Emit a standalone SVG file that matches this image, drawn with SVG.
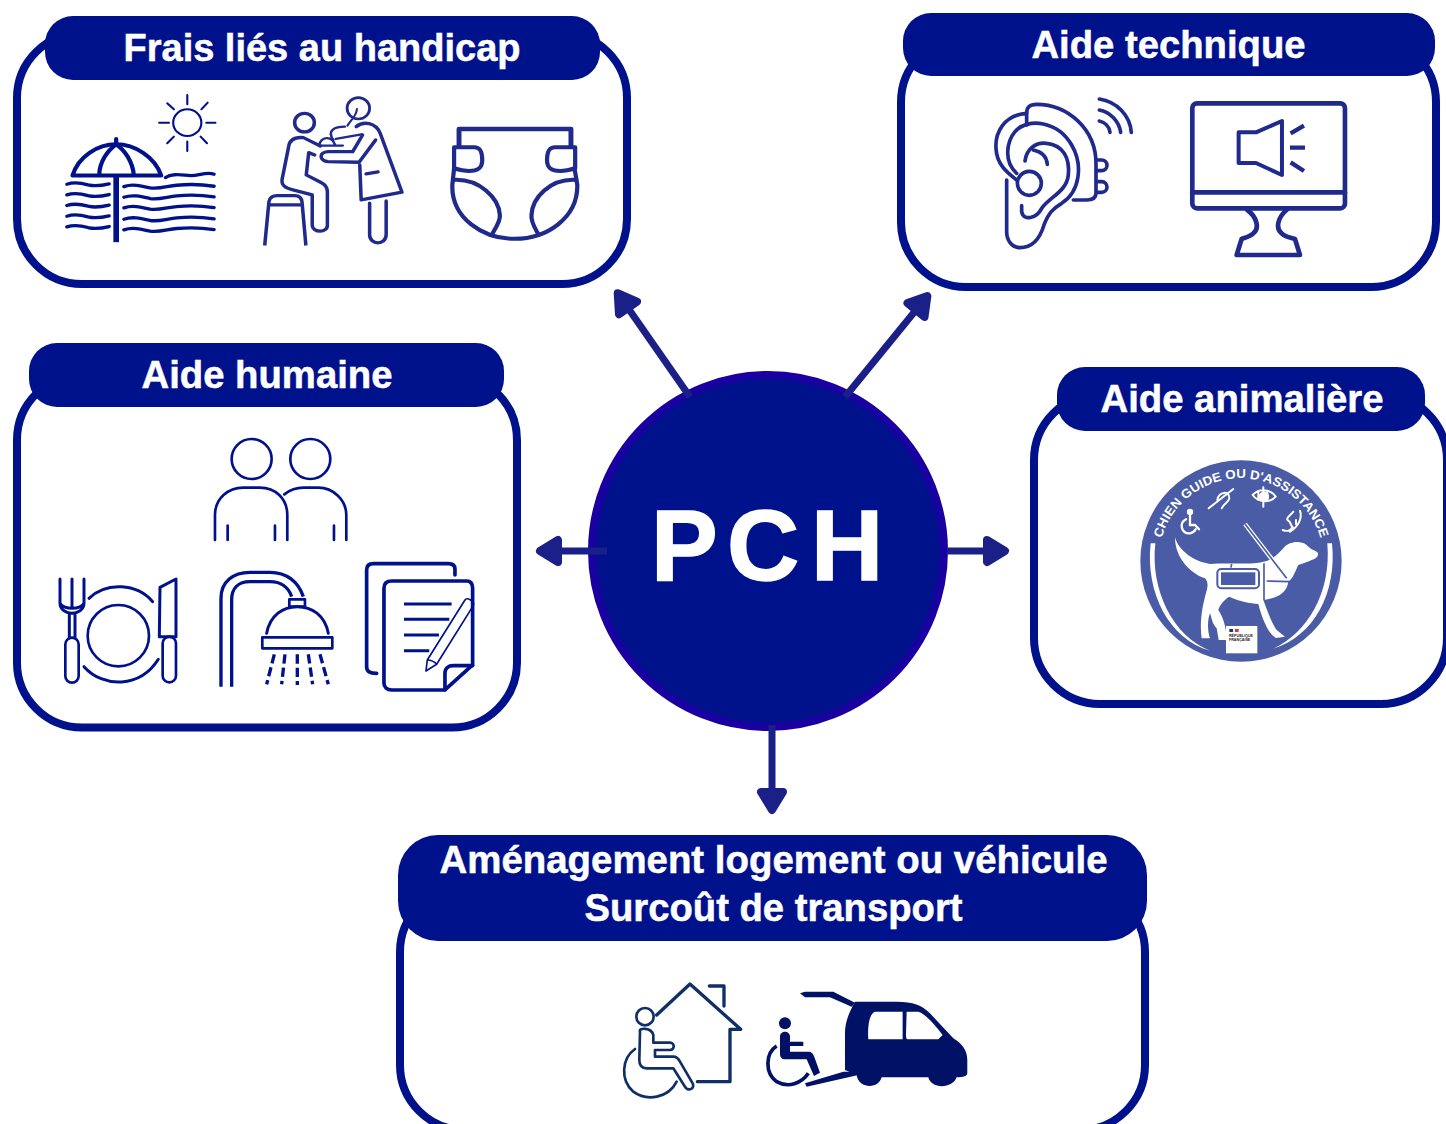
<svg xmlns="http://www.w3.org/2000/svg" width="1446" height="1124" viewBox="0 0 1446 1124">
<defs>
<style>
.panel{fill:#fff;stroke:#00118c;stroke-width:8}
.head{fill:#00118c}
.title{font-family:"Liberation Sans",Arial,sans-serif;font-weight:700;font-size:39px;fill:#fff;stroke:#fff;stroke-width:.5;text-anchor:middle}
.i{fill:none;stroke:#00118c;stroke-linecap:round;stroke-linejoin:round}
.j{fill:none;stroke:#1f2a8c;stroke-linecap:round;stroke-linejoin:round}
.conn{fill:none;stroke:#1a2088;stroke-width:7}
.w{fill:#fff}
.b{fill:#4a5ca5}
</style>
<marker id="ah" markerUnits="userSpaceOnUse" markerWidth="40" markerHeight="44" refX="5" refY="22" orient="auto" viewBox="0 0 40 44">
<path d="M5,11 L23,22 L5,33 Z" fill="#1a2088" stroke="#1a2088" stroke-width="8" stroke-linejoin="round"/>
</marker>
<path id="arc" d="M85,333 A248,248 0 0 1 581,333"/>
<path id="wl" d="M0,0 C20,-7 40,-4 60,2 C80,7 100,4 120,-1"/>
<path id="wr" d="M0,0 C25,-9 50,-2 75,4 C100,8 125,-2 150,-4 C190,-8 225,-6 256,-1"/>
</defs>

<g id="frais">
<rect class="panel" x="17" y="33" width="610" height="251" rx="65"/>
<rect class="head" x="45" y="16" width="555" height="64" rx="28"/>
<text class="title" x="322" y="61" textLength="397" lengthAdjust="spacingAndGlyphs">Frais liés au handicap</text>
<g transform="translate(50,85) scale(.352,.333)">
<g class="i" stroke-width="6">
<circle cx="390" cy="113" r="40"/>
<path d="M390,30V58M390,170V198M310,113H338M444,113H470M333,55L352,73M448,53L430,73M333,175L352,155M446,175L428,155"/>
</g>
<g class="i" stroke-width="12">
<path d="M64,272 H316 C298,215 240,178 188,178 C135,178 80,215 64,272Z"/>
<path d="M140,270 C140,230 165,195 188,178 C212,195 235,230 238,270"/>
<path d="M188,162V178"/>
<path d="M188,272V472" stroke-width="16" stroke-linecap="butt"/>
</g>
<g class="i" stroke-width="10" stroke-linecap="butt">
<use href="#wl" x="48" y="298"/><use href="#wl" x="48" y="330"/><use href="#wl" x="48" y="362"/><use href="#wl" x="48" y="394"/><use href="#wl" x="48" y="426"/>
<use href="#wr" x="210" y="305"/><use href="#wr" x="210" y="337"/><use href="#wr" x="210" y="369"/><use href="#wr" x="210" y="403"/><use href="#wr" x="210" y="435"/>
<path d="M328,278 C350,262 380,272 400,272 C425,272 445,260 466,268"/>
</g>
<g class="j" stroke-width="10">
<circle cx="723" cy="113" r="28"/>
<path d="M768,183 L720,158 C690,155 680,170 678,185 L660,280 C655,300 668,310 690,315 L745,330 V420 C745,445 790,445 788,420 V320 C788,305 780,298 770,293 L728,270 L735,203 L752,210"/>
<path d="M610,482 L622,350 C625,335 635,332 645,332 H695 C710,332 715,340 716,352 L727,482 M625,360H715" stroke-linecap="butt"/>
<circle cx="876" cy="70" r="32" stroke-width="8"/>
<path d="M872,72 C870,95 858,100 845,122" stroke-width="6"/>
<path d="M870,125 C890,108 925,112 938,145 L1000,322 L884,345 L880,240"/>
<path d="M925,165 L878,232 L790,230 C765,228 762,202 790,200 H860 L888,150"/>
<path d="M898,267L932,261M908,355V450 C908,482 955,482 955,450 V348"/>
<path d="M765,180 C770,155 800,150 810,180 M765,182 H832 M805,165 C785,135 810,125 838,125 M812,162 L885,148" stroke-width="7"/>
</g>
<g class="j" stroke-width="12" stroke-linecap="butt">
<path d="M1162,185V132H1480V185" stroke-width="14"/>
<path d="M1148,187 H1205 C1225,187 1228,205 1228,225 C1228,250 1215,258 1190,258 C1175,258 1160,254 1148,250Z"/>
<path d="M1492,187 H1435 C1415,187 1412,205 1412,225 C1412,250 1425,258 1450,258 C1465,258 1480,254 1492,250Z"/>
<path d="M1148,250 L1143,300 C1140,400 1230,462 1320,462 C1410,462 1500,400 1498,300 L1490,250"/>
<path d="M1145,285 C1220,280 1275,340 1278,390 C1280,410 1265,430 1255,450"/>
<path d="M1495,285 C1420,280 1370,340 1368,390 C1365,410 1378,430 1388,450"/>
</g>
</g>
</g>

<g id="technique">
<rect class="panel" x="901" y="37" width="535" height="250" rx="65"/>
<rect class="head" x="903" y="13" width="532" height="63" rx="28"/>
<text class="title" x="1168.500" y="58" textLength="274" lengthAdjust="spacingAndGlyphs">Aide technique</text>
<g transform="translate(970,85) scale(.3333)">
<g class="j" stroke-width="11">
<path d="M170,85 C170,65 180,58 200,58 C290,58 380,130 378,240 V325 C378,340 365,345 350,345 H310"/>
<path d="M170,85 C100,90 75,145 78,190 C80,240 115,265 140,285 M170,85V120"/>
<path d="M140,265 C100,230 110,170 135,140 C175,95 265,110 305,180 C340,240 330,320 275,355 C250,370 235,385 222,420 C210,460 190,488 150,488 C125,488 110,465 110,440 V285"/>
<circle cx="178" cy="295" r="36"/>
<path d="M165,228 C170,190 200,170 230,175 C280,180 300,220 295,270 C290,320 240,335 215,370 C200,400 160,410 155,380 V362"/>
<path d="M190,195 C215,200 230,215 232,238"/>
<path d="M382,225H395A16,16 0 0 1 395,257H382M382,290H395A16,16 0 0 1 395,322H382"/>
<path d="M388,42 C440,50 480,90 484,142M388,75 C420,80 448,110 452,142M388,108 C405,112 418,125 420,142"/>
</g>
<g class="j" stroke-width="14">
<rect x="667" y="55" width="458" height="315" rx="14"/>
<path d="M667,322H1125"/>
<path d="M832,375 C860,395 870,430 850,445 C840,455 825,458 815,462 L800,510 H990 L975,462 C960,458 945,455 935,445 C915,430 925,395 950,375"/>
<path d="M806,142H858L936,108V270L858,234H806Z" stroke-width="12"/>
<path d="M962,145L1002,122M960,188H1005M962,232L1002,258" stroke-width="13" stroke-linecap="butt"/>
</g>
</g>
</g>

<g id="humaine">
<rect class="panel" x="17" y="375" width="500" height="352.500" rx="65"/>
<rect class="head" x="29" y="343" width="475" height="64" rx="28"/>
<text class="title" x="267" y="388" textLength="251" lengthAdjust="spacingAndGlyphs">Aide humaine</text>
<g transform="translate(40,425) scale(.3333)">
<g class="i" stroke-width="8" stroke-linecap="butt">
<circle cx="635" cy="102" r="60"/><circle cx="811" cy="102" r="60"/>
<path d="M525,345V270C525,220 565,188 610,188H660C705,188 742,220 742,270V345"/>
<path d="M733,208C750,195 770,188 790,188H835C880,188 919,225 919,270V345"/>
<path d="M563,302V345M705,302V345M882,302V345"/>
</g>
<g class="i" stroke-width="8">
<circle cx="235" cy="632" r="92"/>
<path d="M147,520C200,470 290,475 338,530M132,725C190,790 300,790 355,703" stroke-width="9"/>
<path d="M60,462V535C60,555 80,565 96,565C112,565 132,555 132,535V462M96,462V545M60,535C75,555 118,555 132,535M88,565V638M105,565V638" stroke-width="9"/>
<rect x="76" y="638" width="40" height="135" rx="20"/>
<path d="M360,487L408,462V635H358Z" stroke-width="9"/>
<rect x="368" y="635" width="40" height="137" rx="20"/>
<path d="M543,785V520C543,470 580,442 630,442H690C740,442 775,470 790,515M575,785V525C575,490 595,470 630,470H690C720,470 745,485 755,515" stroke-width="10" stroke-linecap="butt"/>
<rect x="748" y="523" width="47" height="22"/>
<path d="M680,625C690,570 730,545 772,545C815,545 855,570 865,625" stroke-width="9"/>
<rect x="667" y="637" width="210" height="33"/>
<path d="M703,688L680,778M735,688L725,778M772,688V780M805,688L818,778M840,688L865,778" stroke-width="10" stroke-linecap="butt" stroke-dasharray="28 12"/>
<path d="M1245,450V432C1245,420 1238,416 1225,416H1000C985,416 980,425 980,435V725C980,740 990,745 1010,745" stroke-width="11"/>
<path d="M1215,795H1055C1040,795 1032,785 1032,775V490C1032,475 1040,468 1055,468H1280C1292,468 1298,475 1298,490V720L1215,795Z" stroke-width="11"/>
<path d="M1215,795V745C1215,730 1225,722 1240,722H1298" stroke-width="11"/>
<path d="M1092,537H1235M1092,583H1228M1092,630H1197M1092,677H1168" stroke-width="9" stroke-linecap="butt"/>
<path d="M1158,738L1162,705L1275,525C1282,515 1305,530 1300,542L1190,718ZM1162,705C1175,705 1185,712 1190,718" stroke-width="5"/>
</g>
</g>
</g>

<g id="animaliere">
<rect class="panel" x="1034" y="394" width="413" height="310" rx="66"/>
<rect class="head" x="1057" y="367" width="368" height="64" rx="28"/>
<text class="title" x="1242" y="412" textLength="283" lengthAdjust="spacingAndGlyphs">Aide animalière</text>
<g transform="translate(1130,450) scale(.3333)">
<circle class="b" cx="333" cy="333" r="302"/>
<text font-family="'Liberation Sans',Arial,sans-serif" font-weight="700" font-size="38" fill="#fff" text-anchor="middle" textLength="640" lengthAdjust="spacingAndGlyphs"><textPath href="#arc" startOffset="50%">CHIEN GUIDE OU D'ASSISTANCE</textPath></text>
<path class="w" d="M62,280H76C60,420 130,560 240,602C120,570 45,430 62,280Z"/>
<path class="w" d="M592,280H606C622,430 550,560 430,596C530,550 605,430 592,280Z"/>
<path class="w" d="M135,262C145,300 190,335 240,342C300,338 370,345 400,335C430,330 445,310 460,295C475,275 510,270 530,285C540,295 545,298 560,305C570,312 562,325 545,330C535,335 520,340 505,345C495,365 490,385 475,395C470,430 440,445 400,450C415,490 425,520 440,540L465,560L438,564C420,555 400,520 385,462C360,460 330,455 298,440C280,450 268,468 265,480C285,510 290,545 290,570L266,570L260,535C245,520 245,500 240,490C232,510 232,540 240,565L215,565C210,530 212,490 225,440C232,415 238,400 225,385C190,375 135,330 135,262Z"/>
<rect x="262" y="357" width="125" height="58" rx="12" fill="#fff" stroke="#4a5ca5" stroke-width="6"/>
<rect x="273" y="367" width="103" height="38" fill="#4a5ca5"/>
<path d="M345,222L470,385" stroke="#fff" stroke-width="13"/>
<path d="M345,222L470,385" stroke="#4a5ca5" stroke-width="5"/>
<path d="M402,340V450M410,393L480,395M305,342L303,353" stroke="#4a5ca5" stroke-width="5" fill="none"/>
<g fill="none" stroke="#fff" stroke-width="7" stroke-linecap="round">
<circle cx="180" cy="186" r="6" fill="#fff"/>
<path d="M180,195V225H195L207,238M168,208C145,220 155,252 180,250C190,248 195,242 197,238"/>
<path d="M236,175L310,117M262,150C265,125 300,120 298,145C295,160 280,160 275,175" stroke-width="6"/>
<path d="M368,135C385,115 420,115 437,140C420,160 385,158 368,135ZM400,112V170M385,125V150M412,125V150" stroke-width="6"/>
<circle cx="402" cy="140" r="12" fill="#fff"/>
<path d="M490,185C478,200 465,205 475,212C485,218 480,225 488,232C478,245 470,245 458,240M510,182C518,205 505,230 480,245M498,210V222" stroke-width="6"/>
</g>
<rect x="288" y="528" width="94" height="82" fill="#fff"/>
<rect x="298" y="537" width="11" height="9" fill="#1f2a8c"/><rect x="309" y="537" width="6" height="9" fill="#eee"/><rect x="315" y="537" width="11" height="9" fill="#d33"/>
<text font-family="'Liberation Sans',Arial,sans-serif" font-weight="700" font-size="11" fill="#222"><tspan x="297" y="561">RÉPUBLIQUE</tspan><tspan x="297" y="572">FRANÇAISE</tspan></text>
</g>
</g>

<g id="amenagement">
<rect class="panel" x="400" y="887" width="745" height="243" rx="65"/>
<rect class="head" x="398" y="835" width="749" height="106" rx="40"/>
<text class="title" x="773.500" y="873" textLength="668" lengthAdjust="spacingAndGlyphs">Aménagement logement ou véhicule</text>
<text class="title" x="773.500" y="921" textLength="378" lengthAdjust="spacingAndGlyphs">Surcoût de transport</text>
<g transform="translate(610,970) scale(.3333)">
<g fill="none" stroke="#0f2f66" stroke-width="10" stroke-linecap="round" stroke-linejoin="round">
<path d="M140,135L240,42L392,178H360V335H262M298,48H342V108"/>
<circle cx="105" cy="140" r="26" stroke-width="8"/>
<path d="M90,185C85,172 125,172 130,195V218H180C195,218 195,240 180,240H135V260H190C200,260 205,265 210,275L248,340C255,358 235,365 225,350L190,295H110C95,295 88,285 88,270Z" stroke-width="8"/>
<path d="M75,237C35,265 30,330 70,365C110,395 175,385 200,335" stroke-width="8"/>
</g>
<g fill="#001166">
<circle cx="525" cy="160" r="18"/>
<path d="M510,200C510,180 540,180 540,200V215H580V228H540V245H595C605,245 608,250 612,258L630,308L612,318L590,268H525C515,268 510,262 510,250Z"/>
<path d="M500,228C465,250 465,310 500,335C535,355 575,340 595,310" fill="none" stroke="#001166" stroke-width="11"/>
<path d="M585,340L700,305H740L745,315L590,350Z"/>
<path d="M735,95H860C910,95 935,105 960,130L1030,205C1055,220 1072,240 1072,270V310C1072,318 1060,322 1040,322C1030,355 965,360 955,322H815C805,360 745,355 740,315L705,300V190C705,160 715,130 735,95Z"/>
<path d="M570,70L585,65H670L735,98L725,110L660,82H585Z"/>
</g>
<path class="w" d="M795,125H878V208H775C772,170 778,130 795,125Z"/>
<path class="w" d="M890,125H925C945,130 975,165 998,195L985,208H895C888,208 888,200 888,195Z"/>
</g>
</g>

<g id="pch">
<circle cx="768" cy="551" r="176" fill="#00118c" stroke="#1a00a0" stroke-width="8"/>
<text x="651 727 811" y="580" font-family="'Liberation Sans',Arial,sans-serif" font-weight="700" font-size="100" fill="#fff" stroke="#fff" stroke-width="1.500">PCH</text>
</g>

<g id="connectors">
<path class="conn" marker-end="url(#ah)" d="M690,397L628,308"/>
<path class="conn" marker-end="url(#ah)" d="M845,397L916,310"/>
<path class="conn" marker-end="url(#ah)" d="M607,551H558"/>
<path class="conn" marker-end="url(#ah)" d="M948,551H987"/>
<path class="conn" marker-end="url(#ah)" d="M772,725V792"/>
</g>
</svg>
